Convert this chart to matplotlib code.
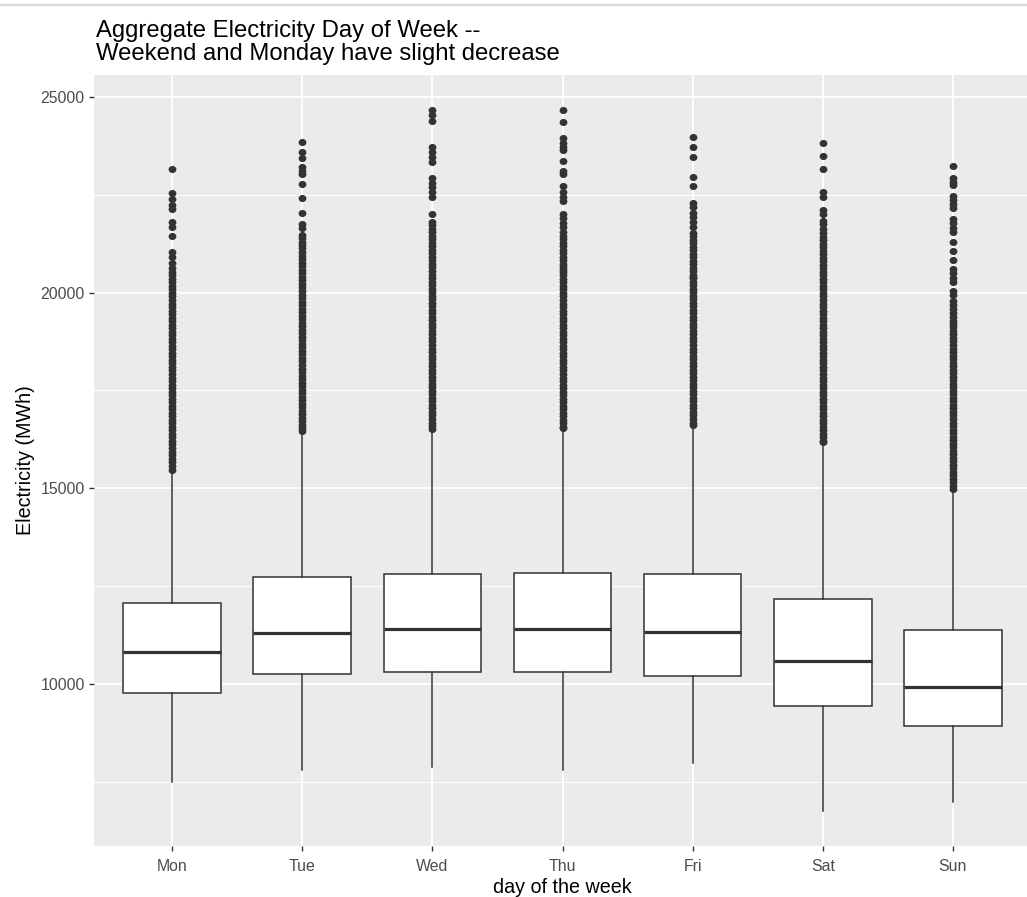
import numpy as np
import matplotlib
matplotlib.use("Agg")
import matplotlib.pyplot as plt
from matplotlib.lines import Line2D
from matplotlib.path import Path

plt.rcParams['font.family'] = ['Liberation Sans', 'DejaVu Sans']

# ---------------- data ----------------
days = ["Mon", "Tue", "Wed", "Thu", "Fri", "Sat", "Sun"]
q1 = [9770, 10247, 10316, 10316, 10214, 9439, 8929]
median = [10816, 11293, 11395, 11395, 11327, 10579, 9923]
q3 = [12066, 12740, 12806, 12842, 12806, 12161, 11378]
whisker_low = [7500, 7806, 7875, 7806, 7985, 6760, 7000]
whisker_high = [15450, 16420, 16490, 16510, 16580, 16150, 14960]

fliers_mon = [23156, 22551, 22400, 22245, 22135, 21810, 21683, 21438, 21031, 20919, 20749,
              20620, 20530, 20440, 20350, 20260, 20170, 20080, 19990, 19900, 19810, 19720,
              19630, 19540, 19450, 19360, 19270, 19180, 19090, 19000, 18910, 18820, 18730,
              18640, 18550, 18460, 18370, 18280, 18190, 18100, 18010, 17920, 17830, 17740,
              17650, 17560, 17470, 17380, 17290, 17200, 17110, 17020, 16930, 16840, 16750,
              16660, 16570, 16480, 16390, 16300, 16210, 16120, 16030, 15940, 15850, 15760,
              15670, 15580, 15480]
fliers_tue = [23837, 23597, 23428, 23199, 23112, 23028, 22781, 22408, 22033, 21752, 21650,
              21472, 21387, 21301, 21216, 21131, 21046,
              20940, 20850, 20760, 20670, 20580, 20490, 20400, 20310, 20220, 20130, 20040,
              19950, 19860, 19770, 19680, 19590, 19500, 19410, 19320, 19230, 19140, 19050,
              18960, 18870, 18780, 18690, 18600, 18510, 18420, 18330, 18240, 18150, 18060,
              17970, 17880, 17790, 17700, 17610, 17520, 17430, 17340, 17250, 17160, 17070,
              16980, 16890, 16800, 16710, 16620, 16530, 16454]
fliers_wed = [24661, 24533, 24389, 23709, 23597, 23454, 23327, 22918, 22806, 22689, 22561,
              22434, 22000,
              21810, 21720, 21630, 21540, 21450, 21360, 21270, 21180, 21090, 21000, 20910,
              20820, 20730, 20640, 20550, 20460, 20370, 20280, 20190, 20100, 20010, 19920,
              19830, 19740, 19650, 19560, 19470, 19380, 19290, 19200, 19110, 19020, 18930,
              18840, 18750, 18660, 18570, 18480, 18390, 18300, 18210, 18120, 18030, 17940,
              17850, 17760, 17670, 17580, 17490, 17400, 17310, 17220, 17130, 17040, 16950,
              16860, 16770, 16680, 16590, 16515]
fliers_thu = [24653, 24347, 23939, 23811, 23725, 23640, 23359, 23112, 23020, 22722, 22576,
              22449, 22331, 22008, 21898, 21786, 21669,
              21541, 21450, 21360, 21270, 21180, 21090, 21000, 20910, 20820, 20730, 20640,
              20579, 20528, 20440, 20350, 20260, 20170, 20080, 19990, 19900, 19810, 19720,
              19630, 19540, 19450, 19360, 19270, 19180, 19090, 19000, 18910, 18820, 18730,
              18640, 18550, 18460, 18370, 18280, 18190, 18100, 18010, 17920, 17830, 17740,
              17650, 17560, 17470, 17380, 17290, 17200, 17110, 17020, 16930, 16840, 16750,
              16660, 16570, 16541]
fliers_fri = [23964, 23725, 23454, 22944, 22722, 22281, 22194, 22026, 21924, 21810, 21683,
              21530, 21440, 21350, 21260, 21170, 21080, 20990, 20900, 20810, 20720, 20630,
              20540, 20450, 20408, 20367, 20280, 20190, 20100, 20010, 19920, 19830, 19740,
              19650, 19560, 19470, 19380, 19290, 19200, 19110, 19020, 18930, 18840, 18750,
              18660, 18570, 18480, 18390, 18300, 18210, 18120, 18030, 17940, 17850, 17760,
              17670, 17580, 17490, 17400, 17310, 17220, 17130, 17040, 16950, 16860, 16770,
              16680, 16607]
fliers_sat = [23811, 23487, 23147, 22576, 22449, 22110, 22000, 21836, 21744, 21617, 21530,
              21428, 21340, 21250, 21160, 21070, 20980, 20890, 20800, 20710, 20620, 20530,
              20440, 20350, 20260, 20170, 20080, 19990, 19900, 19810, 19720, 19630, 19540,
              19450, 19360, 19270, 19180, 19090, 19000, 18910, 18820, 18730, 18640, 18550,
              18460, 18370, 18280, 18190, 18100, 18010, 17920, 17830, 17740, 17650, 17560,
              17470, 17380, 17290, 17200, 17110, 17020, 16930, 16840, 16750, 16660, 16570,
              16480, 16390, 16300, 16210, 16184]
fliers_sun = [23224, 22918, 22832, 22748, 22474, 22365, 22263, 22160, 21872, 21770, 21658,
              21548, 21286, 21072, 20834, 20604, 20495, 20383, 20273, 20043, 19941, 19796,
              19687, 19577, 19475, 19373,
              19286, 19200, 19110, 19020, 18930, 18840, 18750, 18660, 18570, 18480, 18390,
              18300, 18210, 18120, 18030, 17940, 17850, 17760, 17670, 17580, 17490, 17400,
              17310, 17220, 17130, 17040, 16950, 16860, 16770, 16680, 16590, 16500, 16410,
              16320, 16230, 16140, 16050, 15960, 15870, 15780, 15690, 15600, 15510, 15420,
              15330, 15240, 15150, 15060, 14985]
fliers = [fliers_mon, fliers_tue, fliers_wed, fliers_thu, fliers_fri, fliers_sat, fliers_sun]

y_ticks = [10000, 15000, 20000, 25000]
y_minor = [7500, 12500, 17500, 22500]

title_line1 = "Aggregate Electricity Day of Week --"
title_line2 = "Weekend and Monday have slight decrease"
xlabel = "day of the week"
ylabel = "Electricity (MWh)"

# ---------------- figure ----------------
W, H = 1027, 897
fig = plt.figure(figsize=(W / 100, H / 100), dpi=100)
fig.patch.set_facecolor("white")

left, right, top, bottom = 94, 1031, 75, 846
ax = fig.add_axes([left / W, (H - bottom) / H, (right - left) / W, (bottom - top) / H])
ax.set_facecolor("#EBEBEB")
for s in ax.spines.values():
    s.set_visible(False)

stats = []
for i, d in enumerate(days):
    stats.append(dict(label=d, q1=q1[i], med=median[i], q3=q3[i],
                      whislo=whisker_low[i], whishi=whisker_high[i], fliers=fliers[i]))

dark = "#333333"
lw = 1.1
# slightly wide ellipse marker (reference dots are a bit wider than tall)
t = np.linspace(0, 2 * np.pi, 40)
ell = Path(np.column_stack([np.cos(t) * 1.1, np.sin(t)]))

positions = np.arange(1, len(days) + 1)
ax.bxp(stats, positions=positions, widths=0.75, patch_artist=True, showcaps=False,
       boxprops=dict(facecolor="white", edgecolor=dark, linewidth=lw),
       medianprops=dict(color=dark, linewidth=2.3, solid_capstyle="butt"),
       whiskerprops=dict(color=dark, linewidth=lw),
       flierprops=dict(marker=ell, markerfacecolor=dark, markeredgecolor=dark,
                       markersize=5.6, markeredgewidth=0, linestyle="none"),
       zorder=3)

# limits like ggplot (5% expansion)
all_vals = np.concatenate([np.array(whisker_low)] + [np.array(f) for f in fliers])
lo, hi = all_vals.min(), all_vals.max()
pad = 0.05 * (hi - lo)
ax.set_ylim(lo - pad, hi + pad)
ax.set_xlim(0.4, len(days) + 0.6)

ax.set_yticks(y_ticks)
ax.set_yticklabels([str(v) for v in y_ticks])
ax.set_yticks(y_minor, minor=True)
ax.set_xticks(positions)
ax.set_xticklabels(days)

ax.grid(True, which="major", color="white", linewidth=1.35, zorder=0)
ax.grid(True, which="minor", axis="y", color="white", linewidth=0.7, zorder=0)
ax.set_axisbelow(True)

ax.tick_params(axis="both", which="major", length=3.6, width=1.0, color=dark,
               labelsize=11.4, labelcolor="#4D4D4D", pad=3)
ax.tick_params(axis="x", which="major", pad=5.5)
ax.tick_params(axis="y", which="minor", length=0)

fig.text(26 / W, 0.5 * ((H - bottom) + (H - top)) / H, ylabel, rotation=90,
         ha="center", va="center", fontsize=14.2, color="black")
fig.text((left + right) / 2 / W, (H - 893) / H, xlabel, ha="center", va="baseline",
         fontsize=14.2, color="black")

fig.text(96 / W, (H - 36.7) / H, title_line1, ha="left", va="baseline", fontsize=17.2,
         color="black")
fig.text(96 / W, (H - 60) / H, title_line2, ha="left", va="baseline", fontsize=17.2,
         color="black")

# thin light rule at the very top of the screenshot
fig.add_artist(Line2D([0, 1], [(H - 5) / H, (H - 5) / H], transform=fig.transFigure,
                      color="#DADADA", linewidth=1.6))

fig.savefig("out.png", dpi=100, facecolor="white")
